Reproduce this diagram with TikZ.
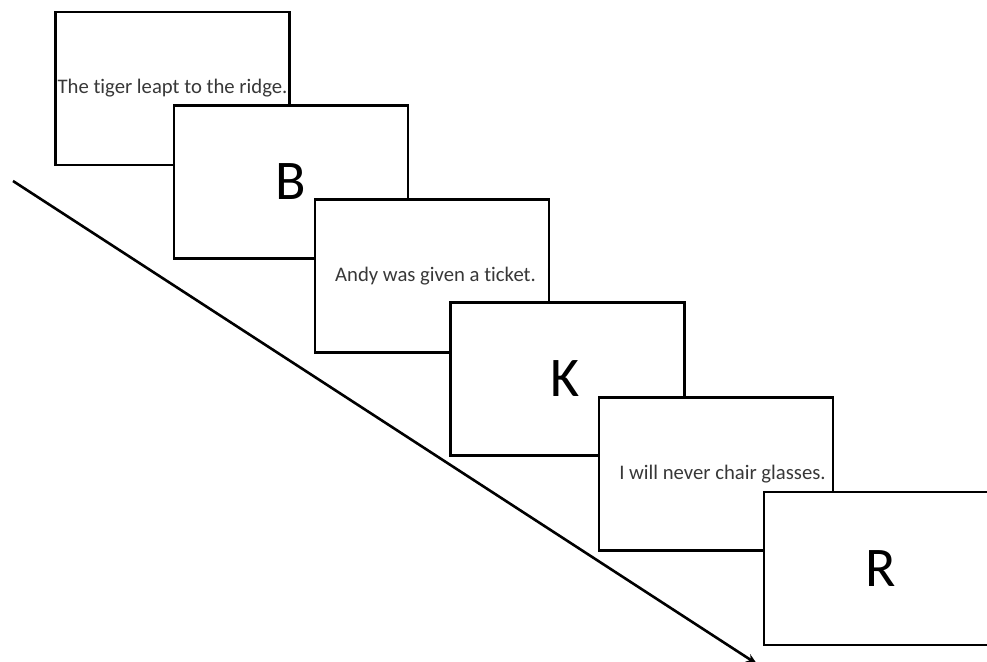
\documentclass[tikz,border=0pt]{standalone}
\usepackage{fontspec}
\setmainfont[Ligatures={NoCommon}]{Carlito}
\usetikzlibrary{arrows.meta}
\definecolor{txtgrey}{HTML}{383838}
\tikzset{
  slide/.style={draw=black, fill=white, line width=2.6pt, rectangle,
    minimum width=234pt, minimum height=153pt, inner sep=0pt, outer sep=0pt},
  sentence/.style={font=\fontsize{20.7}{22}\selectfont, text=txtgrey},
  letter/.style={font=\fontsize{56}{60}\selectfont, text=black},
  timeline/.style={line width=2.6pt, -{Stealth[length=11pt,width=9pt]}}
}
\begin{document}
\begin{tikzpicture}[x=1pt,y=-1pt]
\useasboundingbox (0,0) rectangle (987,661);
\clip (0,0) rectangle (987,661);
\coordinate (tstart) at (13,181);
\coordinate (tend) at (757,664);
\draw[timeline] (tstart) -- (tend);
\node[slide, sentence] (s1) at (172.5,88.5) {The tiger leapt to the ridge.};
\node[slide, letter] (s2) at (291,182) {B};
\node[slide, sentence] (s3) at (432,276) {\hspace*{7pt}Andy was given a ticket.};
\node[slide, letter] (s4) at (567.5,379) {\hspace*{-5pt}K};
\node[slide, sentence] (s5) at (716,474) {\hspace*{13pt}I will never chair glasses.};
\node[slide, letter] (s6) at (881,568.5) {R};
\end{tikzpicture}
\end{document}
